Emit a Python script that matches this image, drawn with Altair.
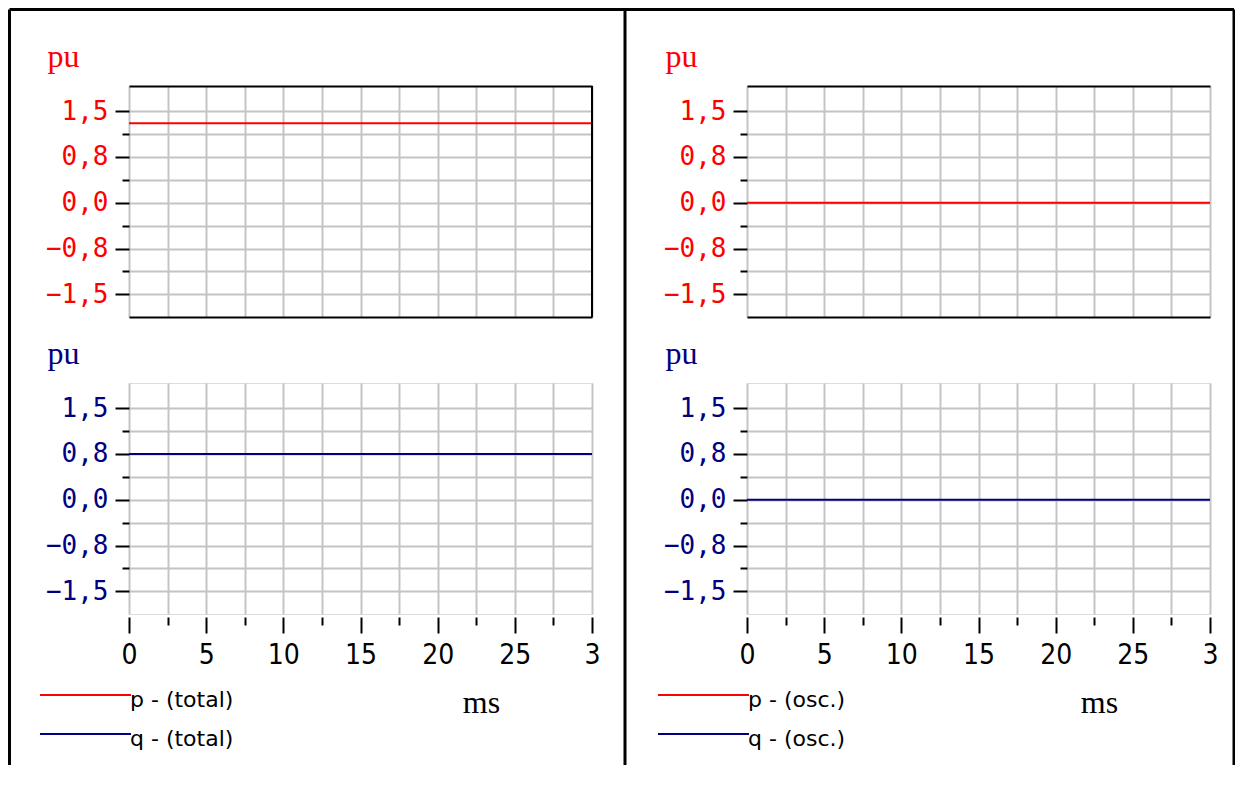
import altair as alt
import pandas as pd

# ---------------- data ----------------
t_ms = [0, 5, 10, 15, 20, 25, 30]
p_total = [1.3, 1.3, 1.3, 1.3, 1.3, 1.3, 1.3]
q_total = [0.75, 0.75, 0.75, 0.75, 0.75, 0.75, 0.75]
p_osc = [0.0, 0.0, 0.0, 0.0, 0.0, 0.0, 0.0]
q_osc = [0.0, 0.0, 0.0, 0.0, 0.0, 0.0, 0.0]

series_total = ["p - (total)", "q - (total)"]
series_osc = ["p - (osc.)", "q - (osc.)"]

x_major = [0, 5, 10, 15, 20, 25, 30]
x_minor = [2.5, 7.5, 12.5, 17.5, 22.5, 27.5]
y_major = [-1.5, -0.75, 0.0, 0.75, 1.5]
y_minor = [-1.125, -0.375, 0.375, 1.125]
x_domain = [0, 30]
y_domain = [-1.87, 1.91]

# ---------------- style ----------------
RED = "#ff0000"
NAVY = "#000080"
GRID = "#c4c4c4"
SERIF = "Liberation Serif"
W, H = 463, 231

x_vals = sorted(x_major + x_minor)
y_vals = sorted(y_major + y_minor)

y_label_expr = "datum.value % 0.75 == 0 ? replace(format(datum.value, '.1f'), '.', ',') : ''"
x_label_expr = "datum.value == 30 ? '3' : (datum.value % 5 == 0 ? format(datum.value, 'd') : '')"

x_scale = alt.Scale(domain=x_domain, nice=False, zero=False)
y_scale = alt.Scale(domain=y_domain, nice=False, zero=False)


def y_axis(color):
    return alt.Axis(
        values=y_vals, labelExpr=y_label_expr,
        title="pu", titleAngle=0, titleX=-82, titleY=-20, titleAlign="left",
        titleBaseline="alphabetic", titleFont=SERIF, titleFontSize=32,
        titleFontWeight="normal", titleColor=color,
        labelFont="DejaVu Sans Mono", labelFontSize=26, labelColor=color,
        labelPadding=7, labelFlush=False, labelOverlap=False, labelBound=False,
        tickColor="black", tickWidth=2,
        tickSize={"condition": {"test": "datum.value % 0.75 == 0", "value": 14}, "value": 7},
        domain=False, grid=True, gridColor=GRID, gridWidth=2,
    )


one = alt.Data(values=[{}])


def hrule(x1, x2, y, w=3):
    return alt.Chart(one).mark_rule(color="black", strokeWidth=w).encode(
        x=alt.value(x1), x2=alt.value(x2), y=alt.value(y))


def vrule(x, y1, y2, w=3):
    return alt.Chart(one).mark_rule(color="black", strokeWidth=w).encode(
        x=alt.value(x), y=alt.value(y1), y2=alt.value(y2))


def top_panel(values, color, decorations):
    df = pd.DataFrame({"t": t_ms, "v": values})
    line = alt.Chart(df).mark_line(color=color, strokeWidth=2, clip=True).encode(
        x=alt.X("t:Q", scale=x_scale, axis=alt.Axis(
            orient="bottom", values=x_vals, labels=False, ticks=False, domain=True,
            domainColor="black", domainWidth=2, grid=True, gridColor=GRID,
            gridWidth=2, title=None)),
        y=alt.Y("v:Q", scale=y_scale, axis=y_axis(color)),
    )
    top_axis = alt.Chart(df).mark_point(opacity=0, size=1).encode(
        x=alt.X("t:Q", scale=x_scale, axis=alt.Axis(
            orient="top", labels=False, ticks=False, domain=True,
            domainColor="black", domainWidth=2, grid=False, title=None)),
        y=alt.value(0),
    )
    return alt.layer(line, top_axis, *decorations).resolve_axis(x="independent").properties(
        width=W, height=H)


def bottom_panel(values, names, legend_x):
    df = pd.DataFrame({"t": t_ms, "v": values, "s": [names[1]] * len(t_ms)})
    return alt.Chart(df).mark_line(strokeWidth=2, clip=True).encode(
        x=alt.X("t:Q", scale=x_scale, axis=alt.Axis(
            values=x_vals, labelExpr=x_label_expr, offset=3, domain=False,
            ticks=True, tickColor="black", tickWidth=2,
            tickSize={"condition": {"test": "datum.value % 5 == 0", "value": 16}, "value": 8},
            labelFont="DejaVu Sans Condensed, DejaVu Sans", labelFontSize=28,
            labelColor="black", labelPadding=8, labelFlush=False,
            labelOverlap=False, labelBound=False,
            grid=True, gridColor=GRID, gridWidth=2,
            title="ms", titleX=352, titleY=95, titleAlign="center",
            titleBaseline="alphabetic", titleFont=SERIF, titleFontSize=32,
            titleFontWeight="normal", titleColor="black")),
        y=alt.Y("v:Q", scale=y_scale, axis=y_axis(NAVY)),
        color=alt.Color("s:N", scale=alt.Scale(domain=names, range=[RED, NAVY]),
                        legend=alt.Legend(
                            orient="none", legendX=legend_x, legendY=298, title=None,
                            symbolType="M-1,-0.1H1.045", symbolSize=7921,
                            symbolStrokeWidth=2, labelFont="DejaVu Sans",
                            labelFontSize=22, labelColor="black", labelOffset=0,
                            symbolOffset=0, padding=0, rowPadding=2,
                            clipHeight=37)),
    ).properties(width=W, height=H)


tl = top_panel(p_total, RED, [
    vrule(463, 0, 231, w=2),
    hrule(-119.5, 1105, -76.5),
    vrule(-119.5, -76.5, 679),
    vrule(496, -76.5, 679),
])
tr = top_panel(p_osc, RED, [
    vrule(487, -76.5, 679),
])
bl = bottom_panel(q_total, series_total, -90)
br = bottom_panel(q_osc, series_osc, -90)

chart = alt.concat(
    tl, tr, bl, br, columns=2, spacing={"row": 66, "column": 155}, bounds="flush"
).resolve_scale(color="independent").properties(
    padding={"top": -1, "left": -1, "right": -1, "bottom": 0}
).configure_view(stroke=GRID, strokeWidth=2).configure(background="white")

chart.save("out.html", embed_options={"renderer": "svg", "actions": False})
